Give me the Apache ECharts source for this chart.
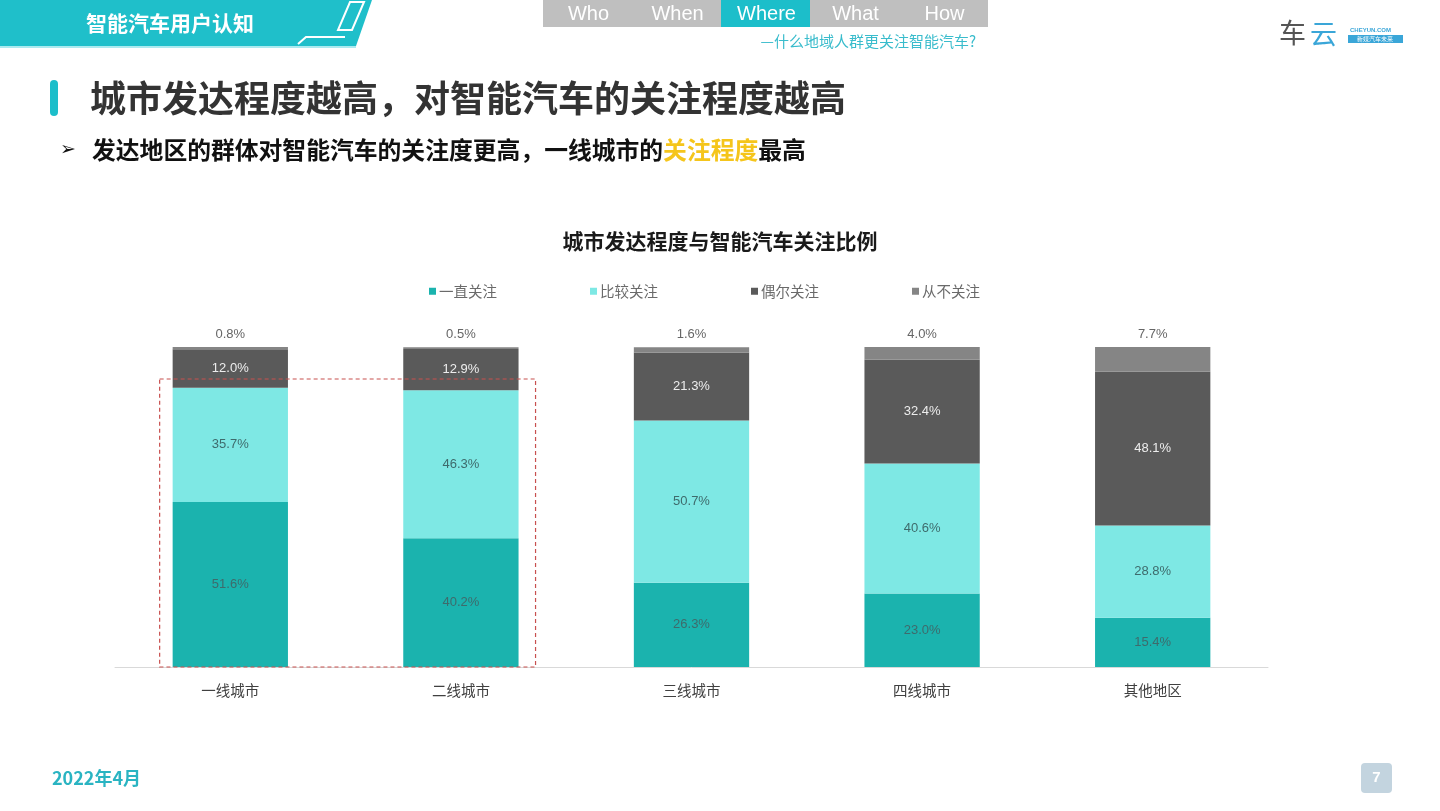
<!DOCTYPE html>
<html>
<head>
<meta charset="utf-8">
<script src="https://cdn.jsdelivr.net/npm/echarts@6/dist/echarts.min.js"></script>
<style>
html,body{margin:0;padding:0;background:#fff;}
#main{width:1440px;height:811px;}
</style>
</head>
<body>
<div id="main"></div>
<script>
const categories = ['一线城市', '二线城市', '三线城市', '四线城市', '其他地区'];
const seriesNames = ['一直关注', '比较关注', '偶尔关注', '从不关注'];
const alwaysFocus = [51.6, 40.2, 26.3, 23.0, 15.4];
const ratherFocus = [35.7, 46.3, 50.7, 40.6, 28.8];
const sometimesFocus = [12.0, 12.9, 21.3, 32.4, 48.1];
const neverFocus = [0.8, 0.5, 1.6, 4.0, 7.7];
const navItems = ['Who', 'When', 'Where', 'What', 'How'];

const FONT = '"Noto Sans CJK SC", "Noto Sans", sans-serif';
const colors = ['#1BB3AE', '#7EE8E4', '#5A5A5A', '#858585'];
const labelColors = ['#3E6B6C', '#3E6B6C', '#EDEDED', '#666666'];
const dataSets = [alwaysFocus, ratherFocus, sometimesFocus, neverFocus];

const chart = echarts.init(document.getElementById('main'));

const navGraphics = [];
const navX0 = 543, navW = 89;
navGraphics.push({type:'rect', shape:{x:navX0, y:0, width:445, height:27}, style:{fill:'#BFBFBF'}});
navItems.forEach((t, i) => {
  if (t === 'Where') {
    navGraphics.push({type:'rect', shape:{x:navX0 + i*navW + 0, y:0, width:navW, height:27}, style:{fill:'#1CBECA'}});
  }
});
navItems.forEach((t, i) => {
  navGraphics.push({type:'text', style:{text:t, x:navX0 + i*navW + navW/2 + 1, y:14, textAlign:'center', textVerticalAlign:'middle', fill:'#FFFFFF', font:'20px "Liberation Sans", Arial, sans-serif'}});
});

const option = {
  backgroundColor: '#FFFFFF',
  animation: false,
  title: {
    text: '城市发达程度与智能汽车关注比例',
    left: 'center',
    top: 226,
    textStyle: {fontFamily: FONT, fontSize: 21, fontWeight: 'bold', color: '#1a1a1a'}
  },
  legend: {
    data: seriesNames,
    left: 424,
    top: 279,
    itemWidth: 7,
    itemHeight: 7,
    itemGap: 93,
    icon: 'rect',
    textStyle: {fontFamily: FONT, fontSize: 14.5, color: '#6a6a6a', padding: [0, 0, 0, -2]}
  },
  grid: {left: 115, right: 172, top: 347, bottom: 144, containLabel: false},
  xAxis: {
    type: 'category',
    data: categories,
    axisLine: {lineStyle: {color: '#D9D9D9', width: 1}},
    axisTick: {show: false},
    axisLabel: {fontFamily: FONT, fontSize: 14.5, color: '#404040', margin: 16}
  },
  yAxis: {
    type: 'value',
    min: 0,
    max: 100,
    show: false
  },
  series: seriesNames.map((name, i) => ({
    name: name,
    type: 'bar',
    stack: 'total',
    barWidth: '50%',
    data: dataSets[i],
    itemStyle: {color: colors[i]},
    label: {
      show: true,
      position: i === 3 ? 'top' : 'inside',
      distance: 6,
      formatter: p => p.value.toFixed(1) + '%',
      fontFamily: '"Liberation Sans", Arial, sans-serif',
      fontSize: 13,
      color: labelColors[i]
    }
  })),
  graphic: [
    // header band
    {type:'polygon', shape:{points:[[0,0],[372,0],[356,46],[0,46]]}, style:{fill:'#1FBFCA'}},
    {type:'line', shape:{x1:0,y1:47,x2:356,y2:47}, style:{stroke:'#8FE3EA', lineWidth:1.5}},
    {type:'polygon', shape:{points:[[350,2],[364,2],[352,30],[338,30]]}, style:{fill:'none', stroke:'#FFFFFF', lineWidth:2}},
    {type:'polyline', shape:{points:[[298,44],[306,37],[345,37]]}, style:{stroke:'#FFFFFF', lineWidth:2, fill:'none'}},
    {type:'text', style:{text:'智能汽车用户认知', x:86, y:23, textVerticalAlign:'middle', fill:'#FFFFFF', font:'bold 21px ' + FONT}},
    ...navGraphics,
    {type:'text', style:{text:'—什么地域人群更关注智能汽车?', x:976, y:41, textAlign:'right', textVerticalAlign:'middle', fill:'#39BCCC', font:'15px ' + FONT}},
    // logo
    {type:'text', style:{text:'车', x:1279, y:33, textVerticalAlign:'middle', fill:'#555555', font:'27px ' + FONT}},
    {type:'text', style:{text:'云', x:1310, y:34, textVerticalAlign:'middle', fill:'#3AA6D8', font:'27px ' + FONT}},
    {type:'text', style:{text:'CHEYUN.COM', x:1350, y:30, textVerticalAlign:'middle', fill:'#3AA6D8', font:'bold 6px "Liberation Sans", sans-serif'}},
    {type:'rect', shape:{x:1348, y:35, width:55, height:8}, style:{fill:'#3AA6D8'}},
    {type:'text', style:{text:'新媒汽车未来', x:1375, y:39, textAlign:'center', textVerticalAlign:'middle', fill:'#FFFFFF', font:'6px ' + FONT}},
    // title
    {type:'rect', shape:{x:50, y:80, width:8, height:36, r:4}, style:{fill:'#1CBECA'}},
    {type:'text', style:{text:'城市发达程度越高，对智能汽车的关注程度越高', x:90, y:98, textVerticalAlign:'middle', fill:'#333333', font:'bold 36px ' + FONT}},
    // subtitle
    {type:'text', style:{text:'➢', x:60, y:150, textVerticalAlign:'middle', fill:'#111111', font:'bold 19px "DejaVu Sans", sans-serif'}},
    {type:'text', style:{
      text:'{a|发达地区的群体对智能汽车的关注度更高，一线城市的}{b|关注程度}{a|最高}',
      x:92, y:150, textVerticalAlign:'middle',
      rich:{
        a:{fontFamily:FONT, fontSize:23.8, fontWeight:'bold', fill:'#111111', color:'#111111'},
        b:{fontFamily:FONT, fontSize:23.8, fontWeight:'bold', fill:'#F5C51B', color:'#F5C51B'}
      }
    }},
    // footer
    {type:'text', style:{text:'2022年4月', x:52, y:778, textVerticalAlign:'middle', fill:'#2AB4C2', font:'bold 18px ' + FONT}},
    {type:'rect', shape:{x:1361, y:763, width:31, height:30, r:4}, style:{fill:'#C3D4DF'}},
    {type:'text', style:{text:'7', x:1376.5, y:778, textAlign:'center', textVerticalAlign:'middle', fill:'#FFFFFF', font:'bold 15px "Liberation Sans", sans-serif'}}
  ]
};

chart.setOption(option);

// dashed highlight box around first two categories, from the chart's own scales
const p0 = chart.convertToPixel({gridIndex:0}, [categories[0], 0]);
const p1 = chart.convertToPixel({gridIndex:0}, [categories[1], 0]);
const pTop = chart.convertToPixel({gridIndex:0}, [categories[0], 90]);
const catW = p1[0] - p0[0];
const halfBar = catW * 0.25;
chart.setOption({
  graphic: option.graphic.concat([{
    type:'rect',
    shape:{x:p0[0] - halfBar - 13, y:pTop[1], width:(p1[0] + halfBar + 17) - (p0[0] - halfBar - 13), height:p0[1] - pTop[1]},
    style:{fill:'none', stroke:'#C8504F', lineWidth:1.2, lineDash:[4,3]},
    z: 100
  }])
}, {replaceMerge:['graphic']});
</script>
</body>
</html>
